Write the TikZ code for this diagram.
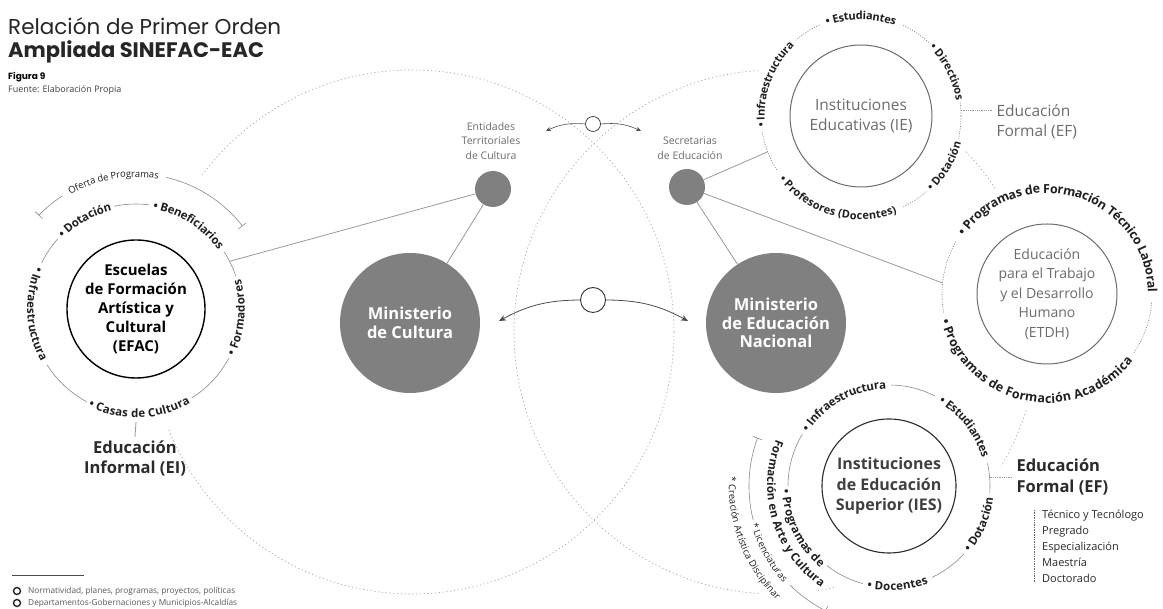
\documentclass[tikz,border=0pt]{standalone}
\usepackage{fontspec}
\setmainfont{Open Sans}
\newfontfamily\titlefont{Poppins}
\usetikzlibrary{decorations.text,arrows.meta}
\definecolor{lab}{HTML}{1F1F1F}
\definecolor{ringc}{HTML}{8A8A8A}
\definecolor{bigc}{HTML}{A8A8A8}
\definecolor{fillg}{HTML}{808080}
\definecolor{txtg}{HTML}{6C6C6C}
\definecolor{conn}{HTML}{9A9A9A}
\definecolor{darkt}{HTML}{2A2A2A}
\newcommand\efacfont{\fontsize{11.5}{12}\selectfont\bfseries}
\newcommand\iefont{\fontsize{11}{12}\selectfont\bfseries}
\newcommand\etdhfont{\fontsize{12.5}{13}\selectfont\bfseries}
\newcommand\iesfont{\fontsize{11.5}{12}\selectfont\bfseries}
\newcommand\smallfont{\fontsize{9.5}{10}\selectfont}
\newcommand\cwlab[6]{\path[decorate,decoration={text along path,text align=center,raise=#5,text color=lab,text={|#4|#6}}] (#1) ++({#3+100}:#2) arc[start angle={#3+100},end angle={#3-100},radius=#2];}
\newcommand\ccwlab[6]{\path[decorate,decoration={text along path,text align=center,raise=#5,text color=lab,text={|#4|#6}}] (#1) ++({#3-100}:#2) arc[start angle={#3-100},end angle={#3+100},radius=#2];}
\newcommand\gaparc[5]{\draw[white,line width=#5] (#1) ++({#3-#4}:#2) arc[start angle={#3-#4},end angle={#3+#4},radius=#2];}
\begin{document}
\begin{tikzpicture}[x=1pt,y=1pt,
  bigcircle/.style={bigc,line width=0.7pt,dash pattern=on 1.2pt off 2.6pt},
  ringsolid/.style={ringc,line width=0.6pt},
  ringdot/.style={ringc,line width=0.7pt,dash pattern=on 1pt off 1.5pt},
  connline/.style={conn,line width=0.8pt},
  gdot/.style={circle,fill=fillg,minimum size=36pt,inner sep=0pt},
  ministry/.style={circle,fill=fillg,minimum size=140pt,inner sep=0pt,text=white,align=center,font=\bfseries\fontsize{16.5}{18.5}\selectfont},
  wcirc/.style={circle,draw=black!80,fill=white,line width=0.9pt,inner sep=0pt},
  arrowline/.style={black!70,line width=0.8pt,-{Stealth[length=7pt,width=6pt]}},
  lgc/.style={circle,draw=black!85,line width=1.4pt,minimum size=7pt,inner sep=0pt},
  lgt/.style={anchor=west,font=\fontsize{8.3}{9}\selectfont,text=black!65,inner sep=0pt}
]
\fill[white] (0,0) rectangle (1163,609);
\useasboundingbox (0,0) rectangle (1163,609);
\coordinate (E) at (136,300);
\coordinate (I) at (861,493);
\coordinate (T) at (1047,315);
\coordinate (S) at (889,123);
\coordinate (L) at (412,277);
\coordinate (R) at (776,277);
% big dotted circles
\draw[bigcircle] (L) circle[radius=262];
\draw[bigcircle] (R) circle[radius=262];
% white covers
\fill[white] (E) circle[radius=124];
\draw[white,line width=24pt] (E) ++(30:136) arc[start angle=30,end angle=140,radius=136];
\fill[white] (I) circle[radius=110];
\fill[white] (T) circle[radius=116];
\fill[white] (S) circle[radius=114];
\draw[white,line width=40pt] (S) ++(150:147) arc[start angle=150,end angle=250,radius=147];
% rings
\draw[ringsolid] (E) circle[radius=105];
\draw[ringdot] (I) circle[radius=100];
\draw[ringdot] (T) circle[radius=105];
\draw[ringsolid] (S) circle[radius=101];
% EFAC labels
\gaparc{E}{105}{120}{18}{15pt}
\gaparc{E}{105}{58}{25}{15pt}
\gaparc{E}{105}{-5}{23}{15pt}
\gaparc{E}{105}{272}{30}{15pt}
\gaparc{E}{105}{183}{29}{15pt}
\cwlab{E}{105}{120}{\efacfont}{-3.8pt}{• Dotación}
\cwlab{E}{105}{58}{\efacfont}{-3.8pt}{• Beneficiarios}
\ccwlab{E}{105}{-5}{\efacfont}{-3.8pt}{• Formadores}
\ccwlab{E}{105}{272}{\efacfont}{-3.8pt}{• Casas de Cultura}
\ccwlab{E}{105}{183}{\efacfont}{-3.8pt}{• Infraestructura}
% Oferta bracket
\draw[ringsolid] (E) ++(136:135) arc[start angle=136,end angle=38,radius=135];
\draw[ringsolid] (E) ++(136:130) -- ++(136:10);
\draw[ringsolid] (E) ++(38:130) -- ++(38:10);
\gaparc{E}{135}{100}{23}{12pt}
\cwlab{E}{135}{100}{\smallfont}{-3.1pt}{Oferta de Programas}
% IE labels
\gaparc{I}{100}{90}{24}{15pt}
\gaparc{I}{100}{27}{19}{15pt}
\gaparc{I}{100}{-31}{18}{15pt}
\gaparc{I}{100}{254}{41}{15pt}
\gaparc{I}{100}{160}{29}{15pt}
\cwlab{I}{100}{90}{\iefont}{-3.6pt}{• Estudiantes}
\cwlab{I}{100}{27}{\iefont}{-3.6pt}{• Directivos}
\ccwlab{I}{100}{-31}{\iefont}{-3.6pt}{• Dotación}
\ccwlab{I}{100}{254}{\iefont}{-3.6pt}{• Profesores (Docentes)}
\cwlab{I}{100}{160}{\iefont}{-3.6pt}{• Infraestructura}
% ETDH labels
\gaparc{T}{105}{73}{77}{16pt}
\gaparc{T}{105}{258}{67}{16pt}
\cwlab{T}{105}{73}{\etdhfont}{-4.1pt}{• Programas de Formación Técnico Laboral}
\ccwlab{T}{105}{258}{\etdhfont}{-4.1pt}{• Programas de Formación Académica}
% IES labels
\gaparc{S}{101}{119}{30}{15pt}
\gaparc{S}{101}{38}{25}{15pt}
\gaparc{S}{101}{-23}{19}{15pt}
\gaparc{S}{101}{275}{20}{15pt}
\gaparc{S}{102}{206}{26}{16pt}
\cwlab{S}{101}{119}{\iesfont}{-3.8pt}{• Infraestructura}
\cwlab{S}{101}{38}{\iesfont}{-3.8pt}{• Estudiantes}
\ccwlab{S}{101}{-23}{\iesfont}{-3.8pt}{• Dotación}
\ccwlab{S}{101}{275}{\iesfont}{-3.8pt}{• Docentes}
\ccwlab{S}{103}{206}{\iesfont}{-3.8pt}{• Programas de}
\ccwlab{S}{118}{197}{\iesfont}{-3.8pt}{Formación en Arte y Cultura}
% IES bracket
\draw[ringsolid] (S) ++(160:140) arc[start angle=160,end angle=194,radius=140];
\draw[ringsolid] (S) ++(225:140) arc[start angle=225,end angle=243,radius=140];
\draw[ringsolid] (S) ++(160:135) -- ++(160:10);
\draw[ringsolid] (S) ++(243:135) -- ++(243:10);
\ccwlab{S}{140}{209}{\smallfont}{-3.1pt}{* Licenciaturas}
\ccwlab{S}{157}{201}{\smallfont}{-3.1pt}{* Creación Artística Disciplinar}
% inner circles
\node[circle,draw=black,line width=1.4pt,minimum size=138pt,inner sep=0pt,align=center,text=black,font=\bfseries\fontsize{15}{19}\selectfont] (efac) at (E) {Escuelas\\de Formación\\Artística y\\Cultural\\(EFAC)};
\node[circle,draw=txtg,line width=1pt,minimum size=142pt,inner sep=0pt,align=center,text=txtg,font=\fontsize{15.5}{20}\selectfont] (ie) at (I) {Instituciones\\Educativas (IE)};
\node[circle,draw=txtg,line width=1pt,minimum size=140pt,inner sep=0pt,align=center,text=txtg,font=\fontsize{14}{19.5}\selectfont] (etdh) at (T) {Educación\\para el Trabajo\\y el Desarrollo\\Humano\\(ETDH)};
\node[circle,draw=darkt,line width=1.1pt,minimum size=134pt,inner sep=0pt,align=center,text=black!75,font=\bfseries\fontsize{16}{20.5}\selectfont] (ies) at (S) {Instituciones\\de Educación\\Superior (IES)};
% ministries and dots
\node[ministry] (mc) at (410,286) {Ministerio\\de Cultura};
\node[ministry] (men) at (776,286) {Ministerio\\de Educación\\Nacional};
\node[gdot] (ent) at (493,420) {};
\node[gdot] (sec) at (687,422) {};
\node[font=\fontsize{10.5}{14.5}\selectfont,text=txtg,align=center] (entT) at (491,468) {Entidades\\Territoriales\\de Cultura};
\node[font=\fontsize{10.5}{14.5}\selectfont,text=txtg,align=center] (secT) at (690,461) {Secretarias\\de Educación};
% connectors
\path (E) ++(27:105) coordinate (efacC);
\path (I) ++(201:100) coordinate (ieC);
\path (T) ++(174:105) coordinate (etdhC);
\draw[connline] (ent) -- (mc);
\draw[connline] (ent) -- (efacC);
\draw[connline] (sec) -- (men);
\draw[connline] (sec) -- (ieC);
\draw[connline] (sec) -- (etdhC);
% center arrows
\node[wcirc,minimum size=25pt] (cc) at (593,309) {};
\coordinate (ccL) at (499,288);
\coordinate (ccR) at (688,288);
\draw[arrowline] (cc.west) to[bend right=14] (ccL);
\draw[arrowline] (cc.east) to[bend left=14] (ccR);
\node[wcirc,minimum size=15pt,line width=0.7pt] (tc) at (593,485) {};
\coordinate (tcL) at (546,478);
\coordinate (tcR) at (641,478);
\draw[arrowline,line width=0.6pt,-{Stealth[length=5pt,width=4.5pt]}] (tc.west) to[bend right=15] (tcL);
\draw[arrowline,line width=0.6pt,-{Stealth[length=5pt,width=4.5pt]}] (tc.east) to[bend left=15] (tcR);
% Educacion informal
\path (E) ++(270:113) coordinate (efacB);
\node[font=\bfseries\fontsize{16.5}{20}\selectfont,text=darkt,align=center,anchor=north] (ei) at (135,172) {Educación\\Informal (EI)};
\draw[connline] (efacB) -- (ei.north);
% Educacion formal IE
\node[font=\fontsize{15.5}{20}\selectfont,text=txtg,align=left,anchor=west] (efI) at (993,487) {Educación\\Formal (EF)};
\path (I) ++(3:100) coordinate (ieE);
\draw[connline,densely dotted] (ieE) -- (ieE -| efI.west);
% Educacion formal IES
\node[font=\bfseries\fontsize{16.5}{20.5}\selectfont,text=darkt,align=left,anchor=west] (efS) at (1013,132) {Educación\\Formal (EF)};
\path (S) ++(5:101) coordinate (iesE);
\draw[connline,densely dotted] (iesE) -- (iesE -| efS.west);
\node[font=\fontsize{11}{16}\selectfont,text=darkt,align=left,anchor=north west,inner sep=0pt] (deg) at (1042,99) {Técnico y Tecnólogo\\Pregrado\\Especialización\\Maestría\\Doctorado};
\draw[black!60,densely dotted,line width=0.7pt] ([xshift=-8pt]deg.north west) -- ([xshift=-8pt]deg.south west);
% title
\node[anchor=base west,inner sep=0pt,font=\titlefont\fontsize{21.5}{24}\selectfont,text=black!85] (t1) at (8,574) {Relación de Primer Orden};
\node[anchor=base west,inner sep=0pt,font=\titlefont\bfseries\fontsize{21}{24}\selectfont,text=black!85] (t2) at (8,551) {Ampliada SINEFAC-EAC};
\node[anchor=base west,inner sep=0pt,font=\titlefont\bfseries\fontsize{9}{10}\selectfont] (fig) at (8,529) {Figura 9};
\node[anchor=base west,inner sep=0pt,font=\fontsize{9}{10}\selectfont,text=black!75] (src) at (8,516) {Fuente: Elaboración Propia};
% legend
\draw[black!70,line width=0.6pt] (12,34) -- (84,34);
\node[lgc] (lg1) at (17,18) {};
\node[lgt] (lt1) at (28,18) {Normatividad, planes, programas, proyectos, políticas};
\node[lgc] (lg2) at (17,6) {};
\node[lgt] (lt2) at (28,6) {Departamentos-Gobernaciones y Municipios-Alcaldías};
\end{tikzpicture}
\end{document}
